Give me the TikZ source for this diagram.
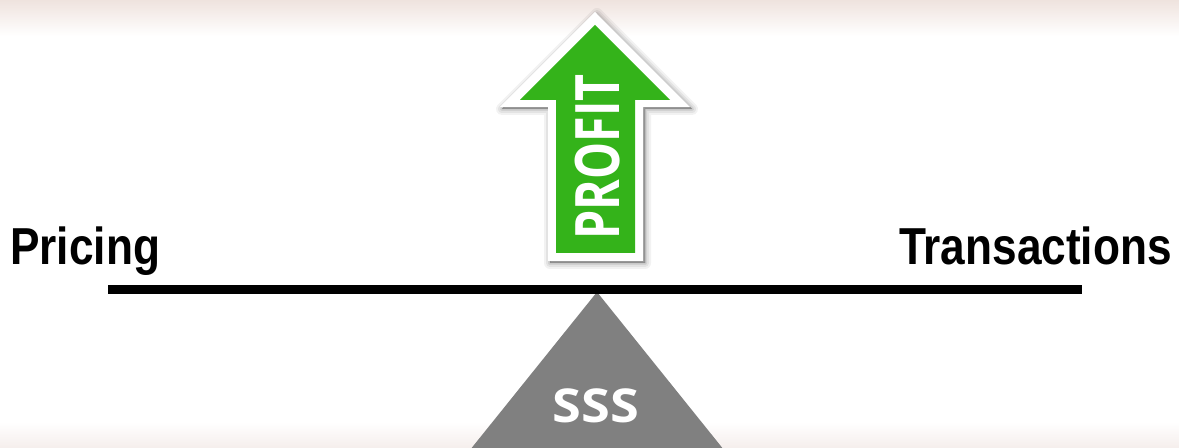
\documentclass[tikz,border=0pt]{standalone}
\usepackage{fontspec}
\usetikzlibrary{positioning}
\newfontfamily\sidefont[FakeStretch=0.85]{Liberation Sans}
\newfontfamily\arrowfont[FakeStretch=0.76]{Open Sans}
\newfontfamily\basefont[FakeStretch=1.12]{Open Sans}
\definecolor{profitgreen}{RGB}{52,179,26}
\definecolor{pivotgray}{RGB}{128,128,128}
\definecolor{topblush}{RGB}{239,227,222}
\definecolor{lowblush}{RGB}{245,238,236}
\tikzstyle{side} = [inner sep=0pt, anchor=base, font=\sidefont\bfseries\fontsize{39}{39}\selectfont]
\tikzstyle{beam} = [draw, line width=6.75pt]

\begin{document}
\begin{tikzpicture}[x=0.75pt, y=-0.75pt,
	word/.style={inner sep=0pt, text=white}]
	\useasboundingbox (0,0) rectangle (1179,448);
	%% background
	\fill[white] (0,0) rectangle (1179,448);
	\shade[top color=topblush, bottom color=white] (0,0) rectangle (1179,36);
	\shade[top color=white, bottom color=lowblush] (0,422) rectangle (1179,448);
	%% pivot
	\coordinate (apex) at (597,292);
	\fill[pivotgray] (apex) -- (470,450) -- (724,450) -- cycle;
	\node [word, font=\basefont\bfseries\fontsize{35}{35}\selectfont] (sss) at (596,406) {SSS};
	%% beam
	\coordinate (bL) at (108,290);
	\coordinate (bR) at (1082,290);
	\path [beam] (bL) -- (bR);
	\node [side, anchor=base west] (pricing) at (10,265) {Pricing};
	\node [side, anchor=base east] (trans) at (1172,265) {Transactions};
	%% profit arrow: shadow, white rim, green body
	\foreach \w/\o in {12/0.05, 8/0.06, 4/0.08, 1/0.1}
		\path [shift={(2,2)}, draw=black, fill=black, line width=\w*0.75pt, line join=round,
			draw opacity=\o, fill opacity=\o]
			(548,261) -- (548,107) -- (500,107) -- (595,12) -- (690,107)
			-- (643,107) -- (643,261) -- cycle;
	\fill [white] (548,261) -- (548,107) -- (500,107) -- (595,12) -- (690,107)
		-- (643,107) -- (643,261) -- cycle;
	\fill [profitgreen] (556,253) -- (556,100) -- (520,100) -- (595,25) -- (670,100)
		-- (635,100) -- (635,253) -- cycle;
	\node [word, rotate=90, font=\arrowfont\bfseries\fontsize{46}{46}\selectfont] (profit) at (598,157) {PROFIT};
\end{tikzpicture}
\end{document}
